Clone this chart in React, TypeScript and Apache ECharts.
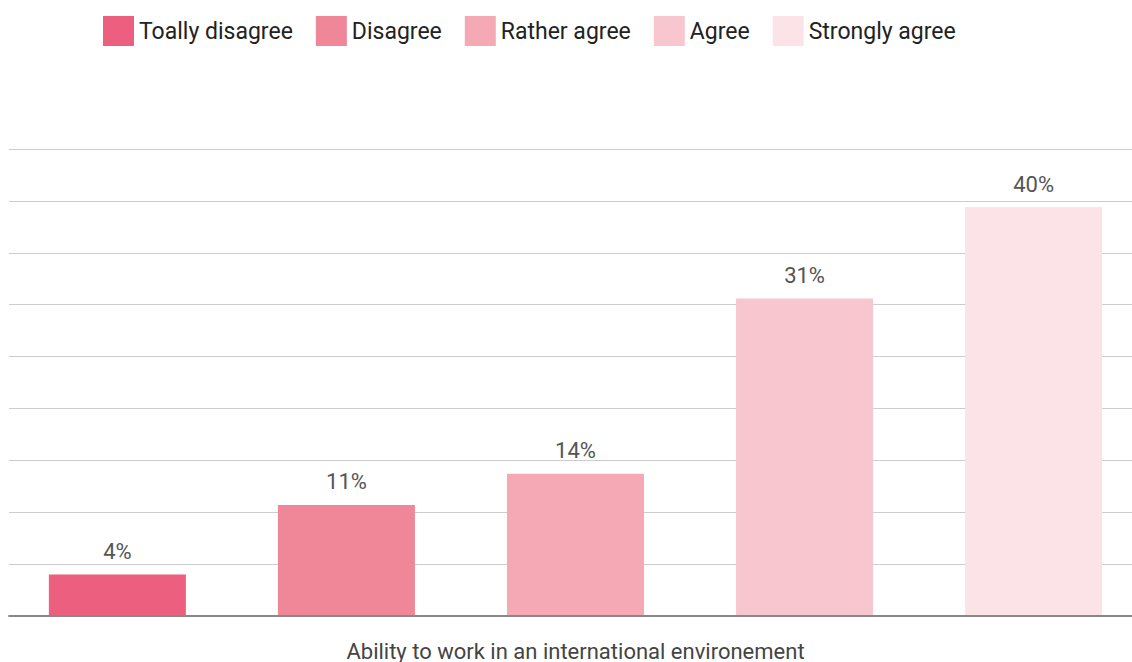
import React, { useEffect, useRef } from "react";
import * as echarts from "echarts";

const categories = ["Ability to work in an international environement"];
const seriesNames = ["Toally disagree", "Disagree", "Rather agree", "Agree", "Strongly agree"];
const seriesValues = [4.0, 10.7, 13.7, 30.6, 39.4];
const seriesLabels = ["4%", "11%", "14%", "31%", "40%"];
const colors = ["#EC5F7E", "#F08799", "#F4A9B4", "#F7C6CE", "#FCE3E7"];

export default function App() {
  const ref = useRef<HTMLDivElement>(null);
  useEffect(() => {
    if (!ref.current) return;
    const chart = echarts.init(ref.current, null, { renderer: "svg" });
    const font = "Roboto, 'Noto Sans', sans-serif";
    const yBase = {
      type: "value",
      min: 0,
      max: 45,
      interval: 5,
      axisLabel: { show: false },
      axisLine: { show: false },
      axisTick: { show: false },
    };
    chart.setOption({
      animation: false,
      textStyle: { fontFamily: font },
      legend: {
        left: 98,
        top: 11,
        itemWidth: 31,
        itemHeight: 30,
        itemGap: 23,
        icon: "rect",
        textStyle: { fontSize: 23, color: "#222", fontFamily: font },
        data: seriesNames,
      },
      grid: [
        { left: 9, right: 0, top: 149, bottom: 46 },
        { left: 19, right: 0, top: 149, bottom: 46 },
      ],
      xAxis: [
        {
          type: "category",
          gridIndex: 0,
          data: categories,
          axisTick: { show: false },
          axisLabel: { show: false },
          axisLine: { lineStyle: { color: "#888", width: 2 } },
          z: 5,
        },
        {
          type: "category",
          gridIndex: 1,
          data: categories,
          axisTick: { show: false },
          axisLine: { show: false },
          axisLabel: { fontSize: 22, color: "#444", margin: 24, fontFamily: font },
        },
      ],
      yAxis: [
        { ...yBase, gridIndex: 0, splitLine: { lineStyle: { color: "#ccc", width: 1 } } },
        { ...yBase, gridIndex: 1, splitLine: { show: false } },
      ],
      series: seriesNames.map((name, i) => ({
        name,
        type: "bar",
        xAxisIndex: 1,
        yAxisIndex: 1,
        data: [seriesValues[i]],
        barWidth: 137,
        barGap: "67.2%",
        itemStyle: { color: colors[i] },
        label: {
          show: true,
          position: "top",
          distance: 12,
          fontSize: 22,
          color: "#555",
          fontFamily: font,
          formatter: () => seriesLabels[i],
        },
      })),
    });
    return () => chart.dispose();
  }, []);
  return (
    <div
      ref={ref}
      style={{ position: "absolute", left: 0, top: 0, width: 1132, height: 662 }}
    />
  );
}
